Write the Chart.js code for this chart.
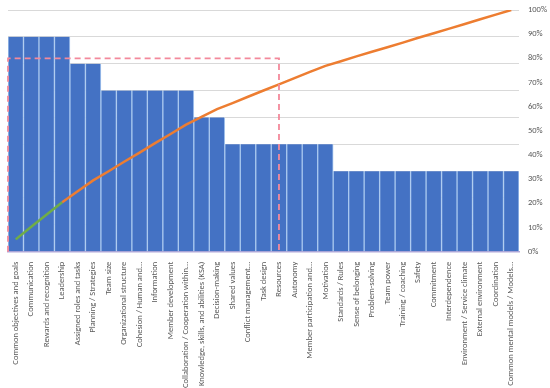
<!DOCTYPE html>
<html lang="en">
<head>
<meta charset="UTF-8">
<title>Pareto chart</title>
<script src="https://cdn.jsdelivr.net/npm/chart.js"></script>
<style>
  html, body { margin: 0; padding: 0; background: #fff; }
  .wrap { width: 550px; height: 388px; }
</style>
</head>
<body>
<div class="wrap"><canvas id="pareto"></canvas></div>
<script>
  const categories = [
    "Common objectives and goals", "Communication", "Rewards and recognition", "Leadership",
    "Assigned roles and tasks", "Planning / Strategies", "Team size", "Organizational structure",
    "Cohesion / Human and...", "Information", "Member development",
    "Collaboration / Cooperation within...", "Knowledge, skills, and abilities (KSA)",
    "Decision-making", "Shared values", "Conflict management...", "Task design", "Resources",
    "Autonomy", "Member participation and...", "Motivation", "Standards / Rules",
    "Sense of belonging", "Problem-solving", "Team power", "Training / coaching", "Safety",
    "Commitment", "Interdependence", "Environment / Service climate", "External environment",
    "Coordination", "Common mental models / Models..."
  ];
  const counts = [8, 8, 8, 8, 7, 7, 6, 6, 6, 6, 6, 6, 5, 5, 4, 4, 4, 4, 4, 4, 4,
                  3, 3, 3, 3, 3, 3, 3, 3, 3, 3, 3, 3];
  const cumulativePct = [5.1, 10.3, 15.4, 20.5, 25.0, 29.5, 33.3, 37.2, 41.0, 44.9, 48.7,
                         52.6, 55.8, 59.0, 61.5, 64.1, 66.7, 69.2, 71.8, 74.4, 76.9, 78.8,
                         80.8, 82.7, 84.6, 86.5, 88.5, 90.4, 92.3, 94.2, 96.2, 98.1, 100];
  const pctTicks = [0, 10, 20, 30, 40, 50, 60, 70, 80, 90, 100];

  // dashed "80% of causes" box: from the left edge to the Resources bar, up to 80%
  const boxLastIndex = 17;
  const boxTopPct = 80;

  const font = "Carlito, Lato, 'Open Sans', sans-serif";

  const paretoBox = {
    id: "paretoBox",
    afterDatasetsDraw(chart) {
      const { ctx, chartArea, scales } = chart;
      const x0 = chartArea.left;
      const x1 = scales.x.getPixelForValue(boxLastIndex);
      const y0 = scales.y1.getPixelForValue(boxTopPct);
      const y1 = scales.y1.getPixelForValue(0);
      ctx.save();
      ctx.strokeStyle = "#f3899b";
      ctx.lineWidth = 1.8;
      ctx.setLineDash([6, 4]);
      ctx.beginPath();
      ctx.moveTo(x0, y1);
      ctx.lineTo(x0, y0);
      ctx.lineTo(x1, y0);
      ctx.lineTo(x1, y1);
      ctx.stroke();
      ctx.restore();
    }
  };

  new Chart(document.getElementById("pareto"), {
    data: {
      labels: categories,
      datasets: [
        {
          type: "line",
          data: cumulativePct,
          yAxisID: "y1",
          borderColor: "#ed7d31",
          borderWidth: 2.5,
          pointRadius: 0,
          tension: 0,
          order: 0,
          segment: {
            borderColor: ctx => ctx.p0DataIndex < 3 ? "#70ad47" : "#ed7d31"
          }
        },
        {
          type: "bar",
          data: counts,
          yAxisID: "y",
          backgroundColor: "#4472c4",
          borderColor: "#a9c8ef",
          borderWidth: { left: 1, right: 1, top: 0, bottom: 0 },
          borderSkipped: false,
          barPercentage: 1,
          categoryPercentage: 1,
          order: 1
        }
      ]
    },
    options: {
      responsive: true,
      maintainAspectRatio: false,
      animation: false,
      layout: { padding: { left: 8, top: 10, right: 2, bottom: 0 } },
      plugins: {
        legend: { display: false },
        tooltip: { enabled: false }
      },
      scales: {
        x: {
          grid: { display: false },
          border: { color: "#b3a9d9", width: 1.5 },
          afterFit: axis => { axis.height -= 2; axis.paddingRight = 0; },
          ticks: {
            color: "#595959",
            font: { family: font, size: 8.5 },
            minRotation: 90,
            maxRotation: 90,
            autoSkip: false,
            padding: 2
          }
        },
        y: {
          position: "left",
          min: 0,
          max: 9,
          grid: { color: "#d9d9d9", drawTicks: false },
          border: { display: false },
          ticks: { display: false, stepSize: 1 }
        },
        y1: {
          position: "right",
          min: 0,
          max: 100,
          afterBuildTicks: axis => { axis.ticks = pctTicks.map(v => ({ value: v })); },
          afterFit: axis => { axis.width = 29; axis.paddingTop = 0; axis.paddingBottom = 0; },
          grid: { display: false, drawTicks: false },
          border: { display: false },
          ticks: {
            color: "#595959",
            font: { family: font, size: 8.5 },
            padding: 9,
            callback: v => v + "%"
          }
        }
      }
    },
    plugins: [paretoBox]
  });
</script>
</body>
</html>
